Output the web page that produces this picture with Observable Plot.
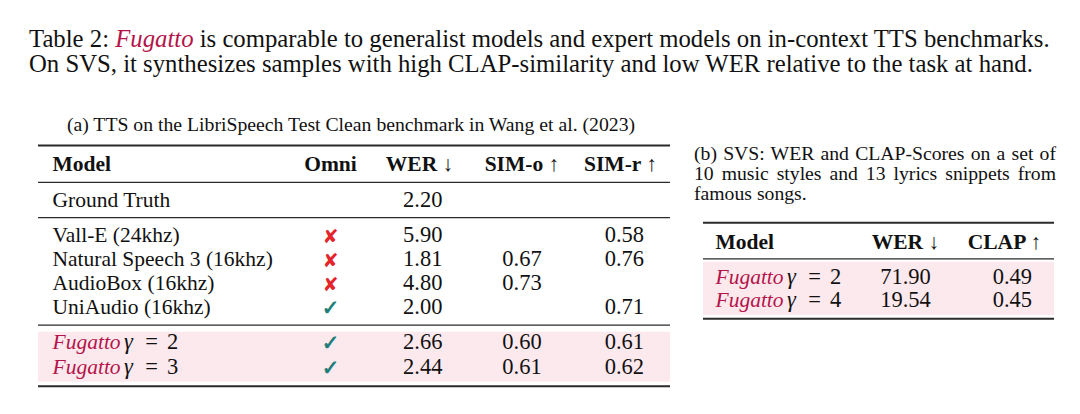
<!DOCTYPE html>
<html><head><meta charset="utf-8">
<script src="https://cdn.jsdelivr.net/npm/d3@7"></script>
<script src="https://cdn.jsdelivr.net/npm/@observablehq/plot@0.6"></script>
<style>
html,body{margin:0;padding:0;background:#fff;}
#page{position:relative;width:1080px;height:414px;overflow:hidden;font-family:"Liberation Serif","Times New Roman",serif;color:#111;}
.line{position:absolute;white-space:nowrap;line-height:1;}
.fug{font-style:italic;color:#b4144a;}
.just{text-align:justify;text-align-last:justify;}
</style></head>
<body><div id="page">
<div id="t1" class="line">Table 2: <span class="fug">Fugatto</span> is comparable to generalist models and expert models on in-context TTS benchmarks.</div>
<div id="t2" class="line">On SVS, it synthesizes samples with high CLAP-similarity and low WER relative to the task at hand.</div>
<div id="capA" class="line">(a) TTS on the LibriSpeech Test Clean benchmark in Wang et al. (2023)</div>
<div id="capB1" class="line just">(b) SVS: WER and CLAP-Scores on a set of</div>
<div id="capB2" class="line just">10 music styles and 13 lyrics snippets from</div>
<div id="capB3" class="line">famous songs.</div>
</div>
<script>
// ---------- data: table (a) ----------
const headersA = ["Model", "Omni", "WER ↓", "SIM-o ↑", "SIM-r ↑"];
const keysA = ["Model", "Omni", "WER", "SIMo", "SIMr"];
const modelsA = ["Ground Truth", "Vall-E (24khz)", "Natural Speech 3 (16khz)", "AudioBox (16khz)", "UniAudio (16khz)", "Fugatto", "Fugatto"];
const gammaA = [null, null, null, null, null, 2, 3];
const omniA = [null, false, false, false, true, true, true];
const werA = [2.20, 5.90, 1.81, 4.80, 2.00, 2.66, 2.44];
const simOA = [null, null, 0.67, 0.73, null, 0.60, 0.61];
const simRA = [null, 0.58, 0.76, null, 0.71, 0.61, 0.62];
const groupA = [1, 2, 2, 2, 2, 3, 3];

// ---------- data: table (b) ----------
const headersB = ["Model", "WER ↓", "CLAP ↑"];
const keysB = ["Model", "WER", "CLAP"];
const modelsB = ["Fugatto", "Fugatto"];
const gammaB = [2, 4];
const werB = [71.90, 19.54];
const clapB = [0.49, 0.45];
const groupB = [1, 1];

// ---------- styles / layout ----------
const red = "#e3242b", teal = "#1b7c78", crimson = "#b4144a", pink = "#fce9ed", ink = "#111", ruleColor = "#2a2a2a";
const FS = 21.5, NFS = 22.5;
const LA = {
  left: 0, top: 100, width: 680, height: 300,
  x0: 38, x1: 670, base: 70.7, pitch: 24.1, gap: 0.465,
  ruleTop: 1.07, ruleMid: 0.46, ruleBottom: 0.53, bandAbove: 0.715, bandBelow: 0.36,
  head: {Model: 0.0222, Omni: 0.462, WER: 0.603, SIMo: 0.765, SIMr: 0.921},
  val: {Omni: 0.462, WER: 0.608, SIMo: 0.765, SIMr: 0.927}
};
const LB = {
  left: 680, top: 205, width: 400, height: 125,
  x0: 23, x1: 374, base: 43.3, pitch: 22.8, gap: 0.535,
  ruleTop: 1.14, ruleMid: 0.44, ruleBottom: 0.535, bandAbove: 0.943, bandBelow: 0.39,
  head: {Model: 0.0342, WER: 0.5755, CLAP: 0.8575},
  val: {WER: 0.5755, CLAP: 0.880}
};

const page = document.getElementById("page");
const ctx = document.createElement("canvas").getContext("2d");
function measure(text, font) { ctx.font = font; return ctx.measureText(text).width; }
const fw = measure("Fugatto", `italic ${FS}px "Liberation Serif"`);

function placeLine(id, fs, baseline, left) {
  const el = document.getElementById(id);
  el.style.fontSize = fs + "px";
  el.style.top = (baseline - 0.8375 * fs) + "px";
  el.style.left = left + "px";
  return el;
}
function fitSize(id, target) {
  const el = document.getElementById(id);
  el.style.fontSize = "100px";
  const w = el.getBoundingClientRect().width;
  return 100 * target / w;
}

// title
const tfs = fitSize("t1", 1021);
placeLine("t1", tfs, 47.7, 29);
placeLine("t2", tfs, 72.5, 29);
// caption (a)
const cfs = fitSize("capA", 568.5);
const capA = placeLine("capA", cfs, 131.6, 0);
capA.style.left = (351 - capA.getBoundingClientRect().width / 2) + "px";
// caption (b)
[["capB1", 160], ["capB2", 180.4], ["capB3", 200.6]].forEach(([id, b]) => {
  const el = placeLine(id, 19.7, b, 694);
  if (id !== "capB3") el.style.width = "362px";
});

function makeTable(L, headers, keys, rows, valueCols, withOmni) {
  const head = headers.map((label, i) => ({label, key: keys[i], pos: 0}));
  const groups = d3.groups(rows, r => r.group);
  const rules = [{pos: -L.ruleTop, w: 2}, {pos: L.ruleMid, w: 1.2}];
  groups.forEach(([g, rs], gi) => {
    const last = rs[rs.length - 1];
    rules.push(gi === groups.length - 1 ? {pos: last.pos + L.ruleBottom, w: 2} : {pos: last.pos + L.ruleMid, w: 1.3});
  });
  const ours = rows.filter(r => r.ours);
  const others = rows.filter(r => !r.ours);
  const T = {y: "pos", lineAnchor: "bottom", fontSize: FS};
  const X0 = () => L.head.Model;
  const marks = [
    Plot.rect(ours, {x1: () => 0, x2: () => 1, y1: r => r.pos - L.bandAbove, y2: r => r.pos + L.bandBelow, fill: pink}),
    Plot.ruleY(rules, {y: "pos", x1: () => 0, x2: () => 1, strokeWidth: "w", stroke: ruleColor}),
    Plot.text(head.filter(h => h.key === "Model"), {...T, x: h => L.head[h.key], text: "label", textAnchor: "start", fontWeight: "bold"}),
    Plot.text(head.filter(h => h.key !== "Model"), {...T, x: h => L.head[h.key], text: "label", textAnchor: "middle", fontWeight: "bold"}),
    Plot.text(others, {...T, x: X0, text: "model", textAnchor: "start"}),
    Plot.text(ours, {...T, x: X0, text: "model", textAnchor: "start", fontStyle: "italic", fill: crimson}),
    Plot.text(ours, {...T, x: X0, text: () => "γ", textAnchor: "start", fontStyle: "italic", fontSize: 22.5, dx: fw + 3.5}),
    Plot.text(ours, {...T, x: X0, text: () => "=", textAnchor: "middle", fontSize: 22.5, dx: fw + 31}),
    Plot.text(ours, {...T, x: X0, text: r => String(r.gamma), textAnchor: "middle", dx: fw + 52, fontSize: NFS}),
    ...valueCols.map(c => Plot.text(rows.filter(r => r[c.field] != null), {
      ...T, fontSize: NFS, x: () => L.val[c.key], text: r => r[c.field].toFixed(2), textAnchor: "middle"
    }))
  ];
  if (withOmni) {
    marks.push(
      Plot.text(rows.filter(r => r.omni === false), {...T, x: () => L.val.Omni, text: () => "✘", fill: red, fontFamily: "DejaVu Sans", fontSize: 19, textAnchor: "middle", dy: 1}),
      Plot.text(rows.filter(r => r.omni === true), {...T, x: () => L.val.Omni, text: () => "✓", fill: teal, stroke: teal, strokeWidth: 0.7, fontFamily: "DejaVu Sans", fontSize: 21, textAnchor: "middle", dy: 1})
    );
  }
  const svg = Plot.plot({
    width: L.width, height: L.height, margin: 0,
    x: {domain: [0, 1], range: [L.x0, L.x1], axis: null},
    y: {domain: [0, 1], range: [L.base, L.base + L.pitch], axis: null},
    style: {fontFamily: '"Liberation Serif", serif', color: ink, background: "transparent", overflow: "visible"},
    marks
  });
  svg.style.position = "absolute";
  svg.style.left = L.left + "px";
  svg.style.top = L.top + "px";
  page.appendChild(svg);
}

const rowsA = modelsA.map((m, i) => ({
  model: m, gamma: gammaA[i], ours: gammaA[i] != null, omni: omniA[i],
  wer: werA[i], simo: simOA[i], simr: simRA[i], group: groupA[i],
  pos: (i + 1) + groupA[i] * LA.gap
}));
const rowsB = modelsB.map((m, i) => ({
  model: m, gamma: gammaB[i], ours: true, wer: werB[i], clap: clapB[i], group: groupB[i],
  pos: (i + 1) + groupB[i] * LB.gap
}));

makeTable(LA, headersA, keysA, rowsA,
  [{key: "WER", field: "wer"}, {key: "SIMo", field: "simo"}, {key: "SIMr", field: "simr"}], true);
makeTable(LB, headersB, keysB, rowsB,
  [{key: "WER", field: "wer"}, {key: "CLAP", field: "clap"}], false);
</script>
</body></html>
